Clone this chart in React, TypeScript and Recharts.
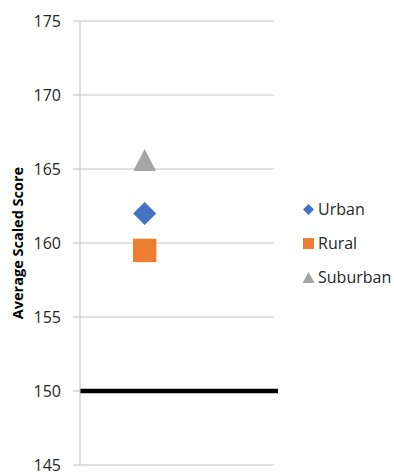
import { ScatterChart, Scatter, XAxis, YAxis, CartesianGrid, ReferenceLine, Label } from "recharts";

const groups = ["Urban", "Rural", "Suburban"];
const scores = [162, 159.5, 165.6];
const groupColors = ["#4472C4", "#ED7D31", "#A5A5A5"];
const benchmark = 150;
const yTicks = [145, 150, 155, 160, 165, 170, 175];

const FONT = "'Open Sans', sans-serif";

// marker glyphs drawn around the point centre
function Diamond({ cx, cy, fill }: any) {
  const r = 11.5;
  return <path d={`M${cx},${cy - r}L${cx + r},${cy}L${cx},${cy + r}L${cx - r},${cy}Z`} fill={fill} />;
}
function Square({ cx, cy, fill }: any) {
  const h = 11.7;
  return <rect x={cx - h} y={cy - h} width={h * 2} height={h * 2} fill={fill} />;
}
function Triangle({ cx, cy, fill }: any) {
  const w = 11.4;
  const h = 11;
  return <path d={`M${cx},${cy - h}L${cx + w},${cy + h}L${cx - w},${cy + h}Z`} fill={fill} />;
}
const shapes = [Diamond, Square, Triangle];

function LegendIcon({ i }: { i: number }) {
  const c = groupColors[i];
  return (
    <svg width={13} height={13} style={{ marginRight: 3 }}>
      {i === 0 && <path d="M6.5,1L12,6.5L6.5,12L1,6.5Z" fill={c} />}
      {i === 1 && <rect x={1} y={1} width={11} height={11} fill={c} />}
      {i === 2 && <path d="M6.5,1L12.5,12L0.5,12Z" fill={c} />}
    </svg>
  );
}

function GroupLegend() {
  return (
    <div
      style={{
        position: "absolute",
        left: 302,
        top: 192,
        fontFamily: FONT,
        fontSize: 16,
        color: "#262626",
      }}
    >
      {groups.map((g, i) => (
        <div key={g} style={{ display: "flex", alignItems: "center", height: 34 }}>
          <LegendIcon i={i} />
          <span>{g}</span>
        </div>
      ))}
    </div>
  );
}

function BenchmarkLine(props: any) {
  const { x1, y1, x2, y2 } = props;
  return <line x1={x1} y1={y1} x2={x2 + 4} y2={y2} stroke="#000" strokeWidth={4.5} />;
}

export default function App() {
  return (
    <div style={{ position: "relative", width: 394, height: 472, background: "#fff" }}>
      <style>{`body{margin:0}`}</style>
      <ScatterChart width={394} height={472} margin={{ top: 21, right: 120, bottom: 7, left: 0 }}>
        <CartesianGrid horizontal vertical={false} stroke="#C4C4C4" strokeWidth={1} />
        <XAxis type="number" dataKey="x" domain={[0, 3]} hide />
        <YAxis
          type="number"
          dataKey="y"
          domain={[145, 175]}
          ticks={yTicks}
          interval={0}
          width={80}
          tickSize={7}
          tickMargin={12}
          stroke="#BFBFBF"
          tick={{ fill: "#262626", fontSize: 16, fontFamily: FONT }}
        >
          <Label
            content={({ viewBox }: any) => {
              const cx = viewBox.x + 17.5;
              const cy = viewBox.y + viewBox.height / 2;
              return (
                <text
                  x={cx}
                  y={cy}
                  transform={`rotate(-90 ${cx} ${cy})`}
                  textAnchor="middle"
                  dominantBaseline="central"
                  fontFamily={FONT}
                  fontWeight="bold"
                  fontSize={14.5}
                  fill="#000"
                >
                  Average Scaled Score
                </text>
              );
            }}
          />
        </YAxis>
        <ReferenceLine y={benchmark} shape={BenchmarkLine} ifOverflow="visible" />
        {groups.map((g, i) => {
          const Shape = shapes[i];
          return (
            <Scatter
              key={g}
              name={g}
              data={[{ x: 1, y: scores[i] }]}
              fill={groupColors[i]}
              shape={(p: any) => <Shape cx={p.cx} cy={p.cy} fill={groupColors[i]} />}
              isAnimationActive={false}
            />
          );
        })}
      </ScatterChart>
      <GroupLegend />
    </div>
  );
}
